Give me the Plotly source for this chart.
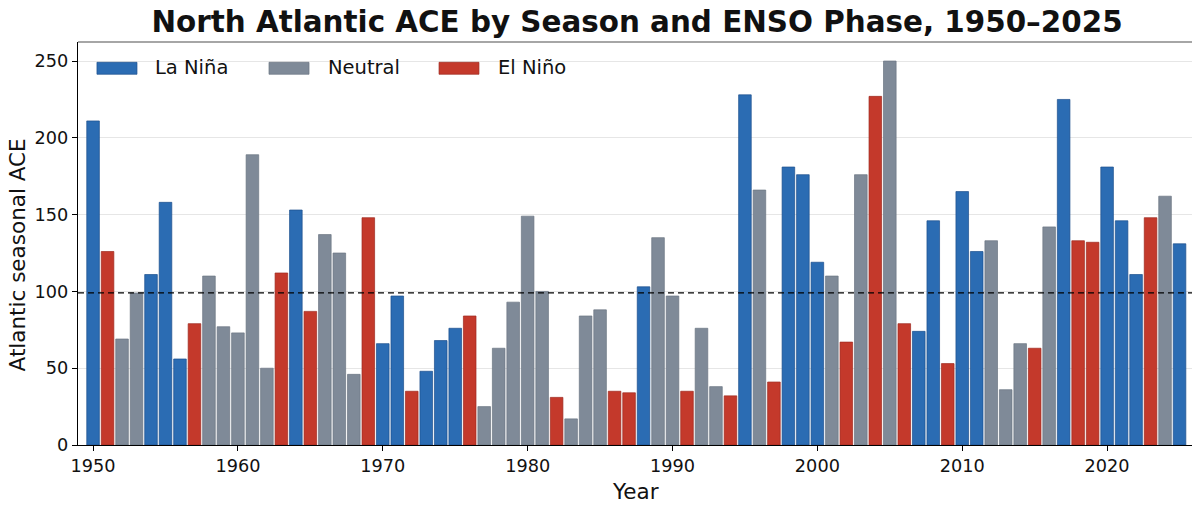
import plotly.graph_objects as go

# Atlantic ACE per season, 1950-2025
years = list(range(1950, 2026))
ace = [
    211, 126, 69, 99, 111, 158, 56, 79, 110, 77,
    73, 189, 50, 112, 153, 87, 137, 125, 46, 148,
    66, 97, 35, 48, 68, 76, 84, 25, 63, 93,
    149, 100, 31, 17, 84, 88, 35, 34, 103, 135,
    97, 35, 76, 38, 32, 228, 166, 41, 181, 176,
    119, 110, 67, 176, 227, 250, 79, 74, 146, 53,
    165, 126, 133, 36, 66, 63, 142, 225, 133, 132,
    181, 146, 111, 148, 162, 131,
]
# L = La Niña, N = Neutral, E = El Niño
phase = [
    'L', 'E', 'N', 'N', 'L', 'L', 'L', 'E', 'N', 'N',
    'N', 'N', 'N', 'E', 'L', 'E', 'N', 'N', 'N', 'E',
    'L', 'L', 'E', 'L', 'L', 'L', 'E', 'N', 'N', 'N',
    'N', 'N', 'E', 'N', 'N', 'N', 'E', 'E', 'L', 'N',
    'N', 'E', 'N', 'N', 'E', 'L', 'N', 'E', 'L', 'L',
    'L', 'N', 'E', 'N', 'E', 'N', 'E', 'L', 'L', 'E',
    'L', 'L', 'N', 'N', 'N', 'E', 'N', 'L', 'E', 'E',
    'L', 'L', 'L', 'E', 'N', 'L',
]
reference_ace = 99

phases = [
    ('L', 'La Niña', '#2b6cb3', '#1d4f8c'),
    ('N', 'Neutral', '#7f8a98', '#6c7682'),
    ('E', 'El Niño', '#c4392b', '#9e2a1f'),
]

fig = go.Figure()

for code, nome, cor, borda in phases:
    xs = [y for y, p in zip(years, phase) if p == code]
    ys = [v for v, p in zip(ace, phase) if p == code]
    fig.add_trace(go.Bar(x=xs, y=ys, name=nome, width=0.87, showlegend=False,
                         marker=dict(color=cor, line=dict(color=borda, width=0.7))))

# legenda desenhada à mão (retângulos largos como no matplotlib)
leg_x = [(0.017, 0.0529, 0.0673), (0.1713, 0.2072, 0.2224), (0.3238, 0.3596, 0.3749)]
for (code, nome, cor, borda), (x0, x1, xt) in zip(phases, leg_x):
    fig.add_shape(type='rect', xref='paper', yref='paper', x0=x0, x1=x1, y0=0.9199, y1=0.9496,
                  fillcolor=cor, line=dict(color=borda, width=0.7), layer='above')
    fig.add_annotation(text=nome, xref='paper', yref='paper', x=xt, y=0.9355,
                       xanchor='left', yanchor='middle', showarrow=False,
                       font=dict(size=19.5, color='#111111'))

# linha de referência tracejada
fig.add_hline(y=reference_ace, line=dict(color='black', width=1.2, dash='6px,4px'))

# bordas superior e direita em cinza
fig.add_shape(type='line', xref='paper', yref='paper', x0=0, x1=1, y0=1, y1=1,
              line=dict(color='#888888', width=1.3))
fig.add_shape(type='line', xref='paper', yref='paper', x0=1, x1=1, y0=0, y1=1,
              line=dict(color='#444444', width=1.3))

# títulos dos eixos
fig.add_annotation(text='Year', xref='paper', yref='paper', x=0.5004, y=-0.1166,
                   xanchor='center', yanchor='middle', showarrow=False,
                   font=dict(size=21.5, color='#111111'))
fig.add_annotation(text='Atlantic seasonal ACE', xref='paper', yref='paper', x=-0.0545, y=0.471,
                   xanchor='center', yanchor='middle', showarrow=False, textangle=-90,
                   font=dict(size=21.5, color='#111111'))

fig.update_xaxes(
    range=[1948.96, 2025.93],
    tickvals=list(range(1950, 2030, 10)),
    ticks='outside', ticklen=5, tickcolor='black',
    showline=True, linecolor='black', linewidth=1.3,
    showgrid=False, zeroline=False, automargin=False,
    tickfont=dict(size=17.7, color='#111111'),
)
fig.update_yaxes(
    range=[0, 262.4],
    tickvals=list(range(0, 300, 50)),
    ticks='outside', ticklen=5, tickcolor='black',
    showline=True, linecolor='black', linewidth=1.3,
    showgrid=True, gridcolor='#e6e6e6', gridwidth=1, zeroline=False, automargin=False,
    tickfont=dict(size=17.7, color='#111111'),
)

# a página tem 8px de margem no body: a figura é 8px menor e deslocada
fig.update_layout(
    width=1192, height=498,
    margin=dict(l=70, r=7, t=34, b=61),
    plot_bgcolor='white', paper_bgcolor='white',
    font=dict(family='DejaVu Sans', color='black'),
    barmode='overlay',
    showlegend=False,
    title=dict(text='<b>North Atlantic ACE by Season and ENSO Phase, 1950–2025</b>',
               x=0.5277, xanchor='center', y=0.993, yanchor='top',
               font=dict(size=29.4, color='#111111')),
)

fig.write_html("out.html")
